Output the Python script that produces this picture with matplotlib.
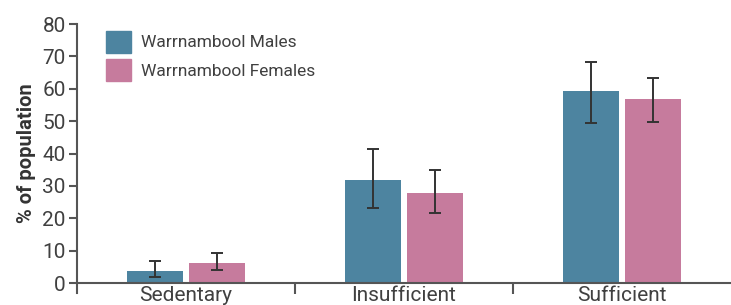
import numpy as np
import matplotlib.pyplot as plt
from matplotlib.patches import Patch

# Données
categories = ['Sedentary', 'Insufficient', 'Sufficient']
males = [3.7, 31.8, 59.3]
males_low = [1.8, 23.2, 49.3]
males_high = [6.9, 41.5, 68.3]
females = [6.2, 27.8, 56.8]
females_low = [3.9, 21.7, 49.7]
females_high = [9.3, 34.8, 63.4]
series_names = ['Warrnambool Males', 'Warrnambool Females']

c_male = '#4d84a0'
c_female = '#c67b9d'
txt = '#404040'

plt.rcParams['font.family'] = ['Roboto', 'DejaVu Sans']

fig = plt.figure(figsize=(7.31, 3.05), dpi=100)
ax = fig.add_axes([0.1053, 0.0721, 0.8947, 0.8492])

x = np.arange(len(categories))
w = 0.257
off = 0.142

m = np.array(males)
f = np.array(females)
err_m = [m - np.array(males_low), np.array(males_high) - m]
err_f = [f - np.array(females_low), np.array(females_high) - f]

ax.bar(x - off, m, w, color=c_male, zorder=2)
ax.bar(x + off, f, w, color=c_female, zorder=2)
ax.errorbar(x - off, m, yerr=err_m, fmt='none', ecolor='#333333',
            elinewidth=1.4, capsize=4.3, capthick=1.4, zorder=3)
ax.errorbar(x + off, f, yerr=err_f, fmt='none', ecolor='#333333',
            elinewidth=1.4, capsize=4.3, capthick=1.4, zorder=3)

ax.set_xlim(-0.5, 2.5)
ax.set_ylim(0, 80)
ax.set_yticks(np.arange(0, 81, 10))
ax.set_xticks(x)
ax.set_xticklabels(categories)
ax.set_xticks([0.5, 1.5], minor=True)

for s in ['top', 'right']:
    ax.spines[s].set_visible(False)
for s in ['left', 'bottom']:
    ax.spines[s].set_color('#555555')
    ax.spines[s].set_linewidth(1.5)
ax.spines['left'].set_bounds(-3, 80)

ax.tick_params(axis='y', length=6, width=1.5, color='#555555',
               labelsize=15, labelcolor=txt, pad=2)
ax.tick_params(axis='x', which='major', length=0, labelsize=15,
               labelcolor=txt, pad=2)
ax.tick_params(axis='x', which='minor', length=8, width=1.5,
               color='#555555')

ax.set_ylabel('% of population', fontsize=14.5, fontweight='bold',
              color='#333333', labelpad=5)

handles = [Patch(color=c_male), Patch(color=c_female)]
ax.legend(handles, series_names, loc='upper left',
          bbox_to_anchor=(0.02, 1.035), frameon=False, fontsize=12.5,
          handlelength=1.45, handleheight=1.6, handletextpad=0.6,
          labelspacing=0.35, labelcolor=txt)

fig.savefig('out.png', dpi=100)
